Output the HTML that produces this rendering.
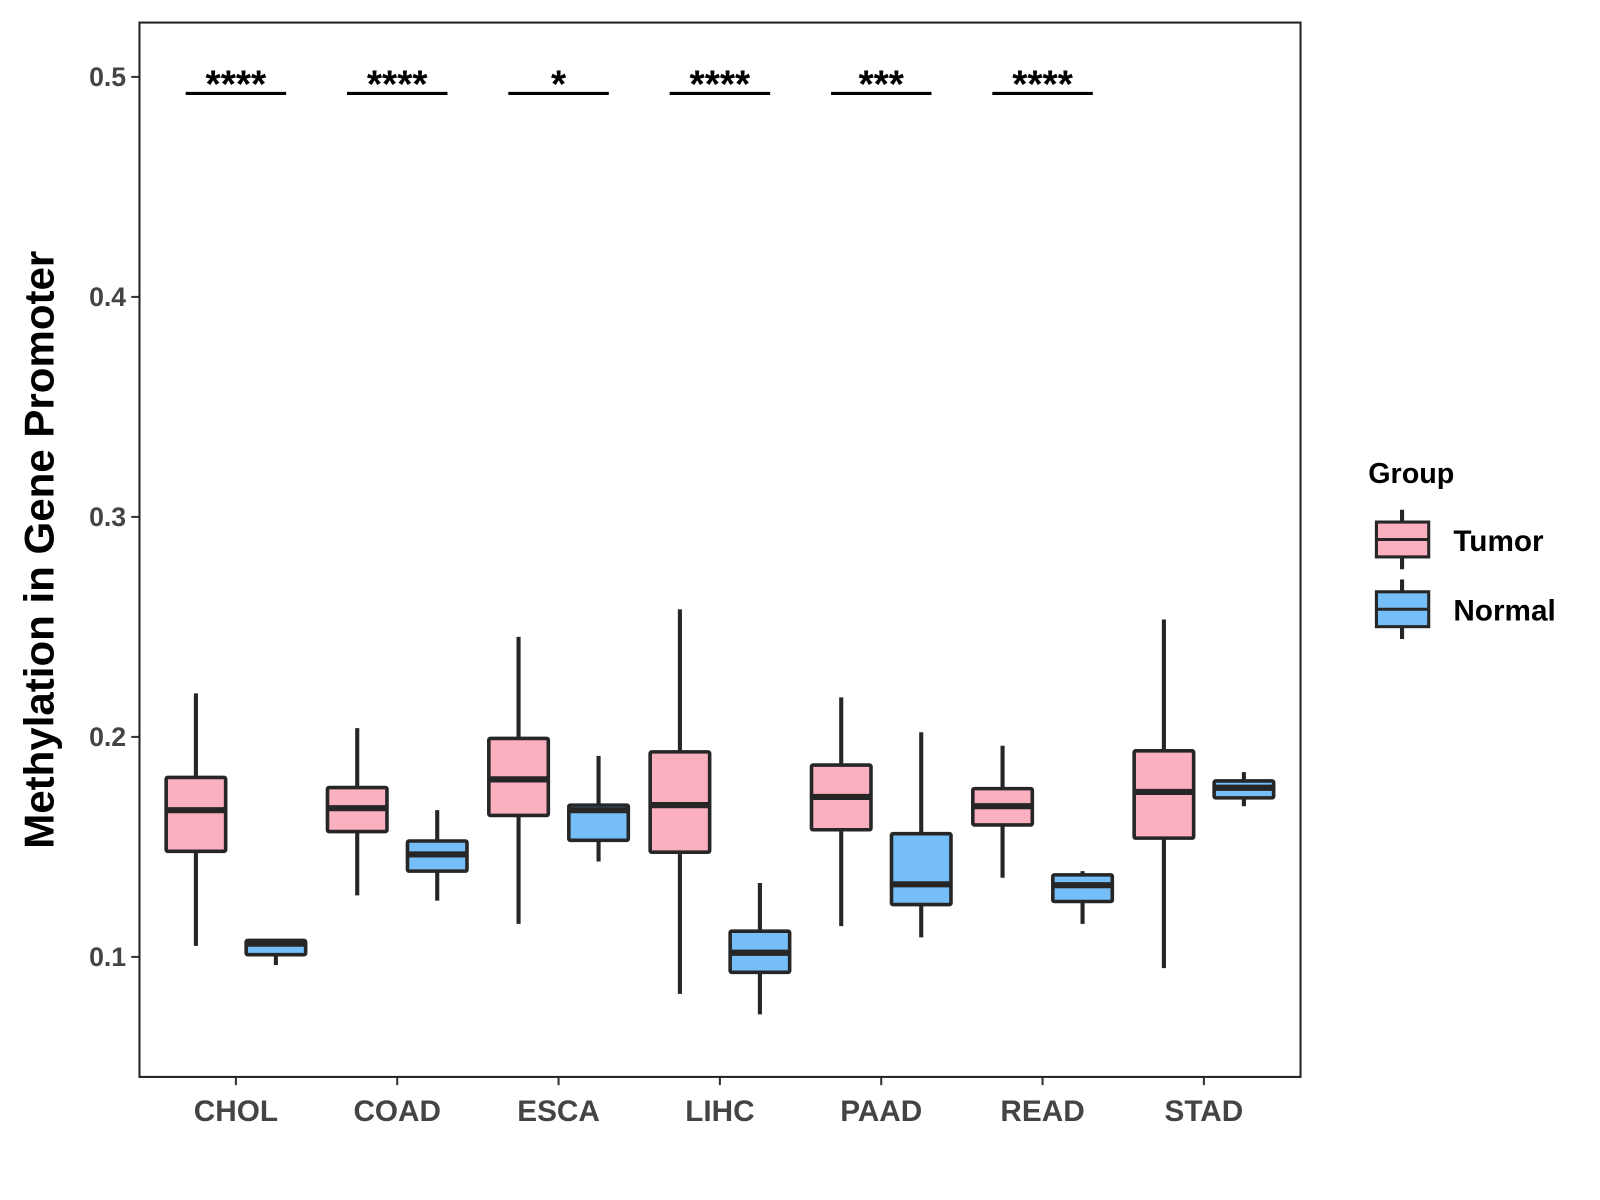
<!DOCTYPE html>
<html><head><meta charset="utf-8"><style>
html,body{margin:0;padding:0;background:#fff}
svg{display:block;font-family:"Liberation Sans",Arial,sans-serif}
</style></head><body>
<svg id="chart" width="1600" height="1200" viewBox="0 0 1560 1170" xmlns="http://www.w3.org/2000/svg">
<rect width="1560" height="1170" fill="#fff"/>
<g id="marks"></g>
<rect x="136" y="22" width="1132" height="1028" fill="none" stroke="#222" stroke-width="2"/>
<text transform="translate(52,536) rotate(-90)" text-anchor="middle" font-size="41" font-weight="bold" fill="#000">Methylation in Gene Promoter</text>
<g>
<text x="1334" y="471" font-size="28" font-weight="bold">Group</text>
<g>
<line x1="1367" y1="497" x2="1367" y2="555" stroke="#262626" stroke-width="4"/>
<rect x="1342" y="509" width="51" height="34" fill="#FBB0C0" stroke="#262626" stroke-width="3"/>
<line x1="1342" y1="526" x2="1393" y2="526" stroke="#262626" stroke-width="3"/>
<text x="1417" y="537" font-size="29" font-weight="bold">Tumor</text></g>
<g>
<line x1="1367" y1="565" x2="1367" y2="623" stroke="#262626" stroke-width="4"/>
<rect x="1342" y="577" width="51" height="34" fill="#75BEF8" stroke="#262626" stroke-width="3"/>
<line x1="1342" y1="594" x2="1393" y2="594" stroke="#262626" stroke-width="3"/>
<text x="1417" y="605" font-size="29" font-weight="bold">Normal</text></g>
</g>
</svg>
<script>
const categories=["CHOL","COAD","ESCA","LIHC","PAAD","READ","STAD"];
// [lower whisker, Q1, median, Q3, upper whisker]
const tumorStats=[[0.105,0.148,0.1667,0.1816,0.2198],[0.128,0.157,0.1676,0.177,0.204],[0.115,0.1643,0.1807,0.1993,0.2455],[0.0832,0.1476,0.169,0.1932,0.258],[0.114,0.1578,0.1727,0.1872,0.218],[0.136,0.160,0.1685,0.1765,0.196],[0.0949,0.154,0.175,0.1937,0.2534]];
const normalStats=[[0.0963,0.101,0.106,0.1075,0.1075],[0.1256,0.139,0.1466,0.1527,0.1667],[0.1434,0.153,0.1667,0.169,0.1914],[0.0739,0.093,0.1019,0.1117,0.1336],[0.1089,0.1238,0.133,0.156,0.2021],[0.115,0.1252,0.1326,0.1373,0.139],[0.1685,0.1723,0.1769,0.180,0.184]];
const sigLabels=["****","****","*","****","***","****",""];
const yTicks=[0.1,0.2,0.3,0.4,0.5];
const sigLevel=0.4925;
const NS="http://www.w3.org/2000/svg";
const g=document.getElementById('marks');
function y(v){return 933-(v-0.1)*2145;}
function x(i){return 230+i*157.3;}
function mk(tag,attrs,parent){const e=document.createElementNS(NS,tag);for(const k in attrs)e.setAttribute(k,attrs[k]);(parent||g).appendChild(e);return e;}
yTicks.forEach(t=>{
  const grp=mk('g',{});
  
  
  mk('line',{x1:128,x2:136,y1:y(t),y2:y(t),stroke:'#333','stroke-width':2},grp);
  const tx=mk('text',{x:123,y:y(t)+9,'text-anchor':'end','font-size':26,'font-weight':'bold',fill:'#444'},grp);
  tx.textContent=t.toFixed(1);
});
categories.forEach((c,i)=>{
  const grp=mk('g',{});
  
  
  mk('line',{x1:x(i),x2:x(i),y1:1050,y2:1058,stroke:'#333','stroke-width':2},grp);
  const tx=mk('text',{x:x(i),y:1093,'text-anchor':'middle','font-size':29,'font-weight':'bold',fill:'#444'},grp);
  tx.textContent=c;
});
function box(s,cx,fill,name){
  const grp=mk('g',{});
  
  
  mk('line',{x1:cx,x2:cx,y1:y(s[4]),y2:y(s[0]),stroke:'#262626','stroke-width':4},grp);
  mk('rect',{x:cx-29,y:y(s[3]),width:58,height:y(s[1])-y(s[3]),fill:fill,stroke:'#262626','stroke-width':3.5,rx:1.5},grp);
  mk('line',{x1:cx-29,x2:cx+29,y1:y(s[2]),y2:y(s[2]),stroke:'#262626','stroke-width':6},grp);
}
categories.forEach((c,i)=>{
  box(tumorStats[i],x(i)-39,'#FBB0C0','box-tumor-'+c.toLowerCase());
  box(normalStats[i],x(i)+39,'#75BEF8','box-normal-'+c.toLowerCase());
  if(sigLabels[i]){
    const grp=mk('g',{});
    
    
    mk('line',{x1:x(i)-49,x2:x(i)+49,y1:y(sigLevel),y2:y(sigLevel),stroke:'#000','stroke-width':3},grp);
    const tx=mk('text',{x:x(i),y:y(sigLevel)+4,'text-anchor':'middle','font-size':38,'font-weight':'bold',fill:'#000'},grp);
    tx.textContent=sigLabels[i];
  }
});
</script>
</body></html>
